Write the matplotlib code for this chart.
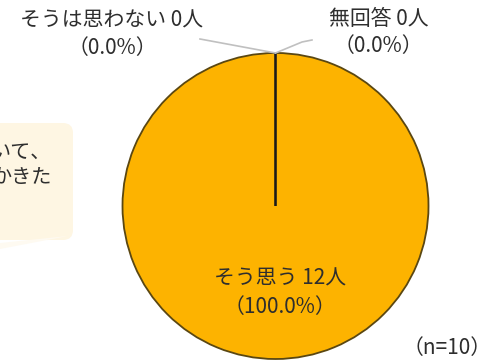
import numpy as np
import matplotlib
matplotlib.use("Agg")
import matplotlib.pyplot as plt
from matplotlib.patches import FancyBboxPatch, Polygon

plt.rcParams["font.family"] = ["Noto Sans CJK JP", "DejaVu Sans"]

# data
labels = ["そう思う", "そうは思わない", "無回答"]
counts = [12, 0, 0]
percents = [100.0, 0.0, 0.0]
n_total = 10
bubble_lines = ["いて、", "かきた"]

W, H = 504, 361
fig = plt.figure(figsize=(W / 100, H / 100), dpi=100)
ax = fig.add_axes([0, 0, 1, 1])

# pie (pixel-like data coords, y up)
cx, cy, r = 275.5, 155, 153
wedges, _ = ax.pie(counts, startangle=90, counterclock=False, center=(cx, cy),
                   radius=r, colors=["#FDB300", "#FDB300", "#FDB300"], frame=True)
wedges[0].set_edgecolor("#5a4712")
wedges[0].set_linewidth(1.3)
for w in wedges[1:]:
    w.set_edgecolor("#1a1a1a")
    w.set_linewidth(1.5)

ax.set_xlim(0, W)
ax.set_ylim(0, H)
ax.set_aspect("auto")
ax.axis("off")

# speech bubble on the left (cut off by the frame)
ax.add_patch(FancyBboxPatch((-40, 121), 113, 117, boxstyle="round,pad=0,rounding_size=10",
                            fc="#FEF6E3", ec="none", zorder=0))
ax.add_patch(Polygon([(0, 118), (68, 125), (0, 112)], closed=True,
                     fc="#FEFAF1", ec="none", zorder=0))
for i, line in enumerate(bubble_lines):
    ax.text(-9, 209 - 25 * i, line, ha="left", va="center", fontsize=14.5, color="#2e2e2e")

# leader lines to the top of the pie
top = wedges[1].theta1
tx = cx + r * np.cos(np.deg2rad(top))
ty = cy + r * np.sin(np.deg2rad(top))
lc = "#c0c0c0"
ax.plot([200, tx], [322, ty], color=lc, lw=1.2, zorder=3)
ax.plot([tx, 302, 312], [ty, 319, 321], color=lc, lw=1.2, zorder=3)

fs = 15
tc = "#2e2e2e"
ax.text(280, 82, f"{labels[0]} {counts[0]}人", ha="center", va="center", fontsize=fs, color=tc)
ax.text(279.5, 54, f"（{percents[0]:.1f}%）", ha="center", va="center", fontsize=fs, color=tc)
ax.text(111.5, 340, f"{labels[1]} {counts[1]}人", ha="center", va="center", fontsize=fs, color=tc)
ax.text(112.5, 313, f"（{percents[1]:.1f}%）", ha="center", va="center", fontsize=fs, color=tc)
ax.text(378.5, 342, f"{labels[2]} {counts[2]}人", ha="center", va="center", fontsize=fs, color=tc)
ax.text(378.5, 315, f"（{percents[2]:.1f}%）", ha="center", va="center", fontsize=fs, color=tc)
ax.text(447.5, 13, f"（n={n_total}）", ha="center", va="center", fontsize=fs, color=tc)

fig.savefig("out.png", dpi=100)
